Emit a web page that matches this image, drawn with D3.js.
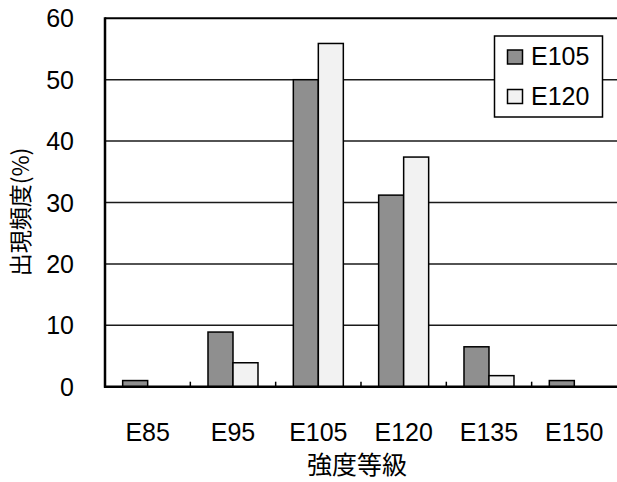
<!DOCTYPE html>
<html>
<head>
<meta charset="utf-8">
<script src="https://cdn.jsdelivr.net/npm/d3@7"></script>
<style>
  html, body { margin: 0; padding: 0; background: #fff; }
  svg { display: block; }
  text { font-family: "Liberation Sans", Arial, sans-serif; fill: #000; }
  .cjk { font-family: "Noto Sans CJK JP", "Noto Sans CJK SC", sans-serif; }
</style>
</head>
<body>
<svg id="chart" width="617" height="482"></svg>
<script>
// Strength grades and frequency of occurrence (%) per lumber grade
const categories = ["E85", "E95", "E105", "E120", "E135", "E150"];
const seriesNames = ["E105", "E120"];
const valuesE105 = [1.0, 8.9, 50.0, 31.2, 6.5, 1.0];
const valuesE120 = [0, 3.9, 55.9, 37.4, 1.8, 0];
const yTicks = [0, 10, 20, 30, 40, 50, 60];
const xTitle = "強度等級";
const yTitle = "出現頻度(%)";

const seriesValues = [valuesE105, valuesE120];
const fills = ["#8f8f8f", "#f2f2f2"];

const svg = d3.select("#chart");
const plot = { left: 105, right: 618, top: 18.3, bottom: 386.7 };

const x0 = d3.scaleBand()
  .domain(categories)
  .range([plot.left, plot.left + 6 * 85.33])
  .paddingInner(0).paddingOuter(0);
const bw = x0.bandwidth();
const groupW = 50;
const x1 = d3.scaleBand()
  .domain(seriesNames)
  .range([(bw - groupW) / 2, (bw + groupW) / 2]);

const y = d3.scaleLinear().domain([0, 60]).range([plot.bottom, plot.top]);

// plot background
svg.append("rect")
  .attr("x", plot.left).attr("y", plot.top)
  .attr("width", plot.right - plot.left).attr("height", plot.bottom - plot.top)
  .attr("fill", "#fff");

// horizontal gridlines
svg.append("g")
  .selectAll("line")
  .data(yTicks.filter(t => t > 0 && t < 60))
  .join("line")
  .attr("x1", plot.left).attr("x2", plot.right)
  .attr("y1", d => y(d)).attr("y2", d => y(d))
  .attr("stroke", "#1a1a1a").attr("stroke-width", 1.5);

// top border
svg.append("line")
  .attr("x1", plot.left).attr("x2", plot.right)
  .attr("y1", y(60)).attr("y2", y(60))
  .attr("stroke", "#000").attr("stroke-width", 2);

// bars
const rows = categories.map((c, i) => ({ cat: c, vals: seriesNames.map((s, j) => ({ s, j, v: seriesValues[j][i] })) }));
svg.append("g")
  .selectAll("g")
  .data(rows)
  .join("g")
  .attr("transform", d => `translate(${x0(d.cat)},0)`)
  .selectAll("rect")
  .data(d => d.vals.filter(e => e.v > 0))
  .join("rect")
  .attr("x", d => x1(d.s))
  .attr("width", x1.bandwidth())
  .attr("y", d => y(d.v))
  .attr("height", d => y(0) - y(d.v))
  .attr("fill", d => fills[d.j])
  .attr("stroke", "#000")
  .attr("stroke-width", 1.5);

// x axis: ticks between categories, pointing inward
const xAxis = svg.append("g").attr("transform", `translate(0,${plot.bottom})`);
xAxis.selectAll("line.tick")
  .data(categories.slice(1))
  .join("line")
  .attr("class", "tick")
  .attr("x1", d => x0(d)).attr("x2", d => x0(d))
  .attr("y1", 0).attr("y2", -5)
  .attr("stroke", "#000").attr("stroke-width", 1.5);
xAxis.append("line")
  .attr("x1", plot.left - 1).attr("x2", plot.right)
  .attr("y1", 0).attr("y2", 0)
  .attr("stroke", "#000").attr("stroke-width", 2.5);
xAxis.selectAll("text")
  .data(categories)
  .join("text")
  .attr("x", d => x0(d) + bw / 2)
  .attr("y", 54)
  .attr("text-anchor", "middle")
  .attr("font-size", 25)
  .text(d => d);

// y axis
const yAxis = svg.append("g");
yAxis.append("line")
  .attr("x1", plot.left).attr("x2", plot.left)
  .attr("y1", plot.top - 1).attr("y2", plot.bottom + 1)
  .attr("stroke", "#000").attr("stroke-width", 2.5);
yAxis.selectAll("text")
  .data(yTicks)
  .join("text")
  .attr("x", 74)
  .attr("y", d => y(d))
  .attr("dy", "0.36em")
  .attr("text-anchor", "end")
  .attr("font-size", 25)
  .text(d => d);

// axis titles
svg.append("text")
  .attr("class", "cjk")
  .attr("x", (plot.left + 617) / 2 - 4)
  .attr("y", 474)
  .attr("text-anchor", "middle")
  .attr("font-size", 25)
  .text(xTitle);

svg.append("text")
  .attr("class", "cjk")
  .attr("transform", "translate(29,212) rotate(-90)")
  .attr("text-anchor", "middle")
  .attr("font-size", 23)
  .text(yTitle);

// legend
const legend = svg.append("g").attr("transform", "translate(494.5,36)");
legend.append("rect")
  .attr("width", 108).attr("height", 81)
  .attr("fill", "#fff").attr("stroke", "#000").attr("stroke-width", 1.5);
const items = legend.selectAll("g.item")
  .data(seriesNames)
  .join("g")
  .attr("class", "item")
  .attr("transform", (d, i) => `translate(13,${14 + i * 39.5})`);
items.append("rect")
  .attr("width", 15).attr("height", 14)
  .attr("fill", (d, i) => fills[i])
  .attr("stroke", "#000").attr("stroke-width", 1.5);
items.append("text")
  .attr("x", 23.5).attr("y", 15)
  .attr("font-size", 25)
  .text(d => d);
</script>
</body>
</html>
